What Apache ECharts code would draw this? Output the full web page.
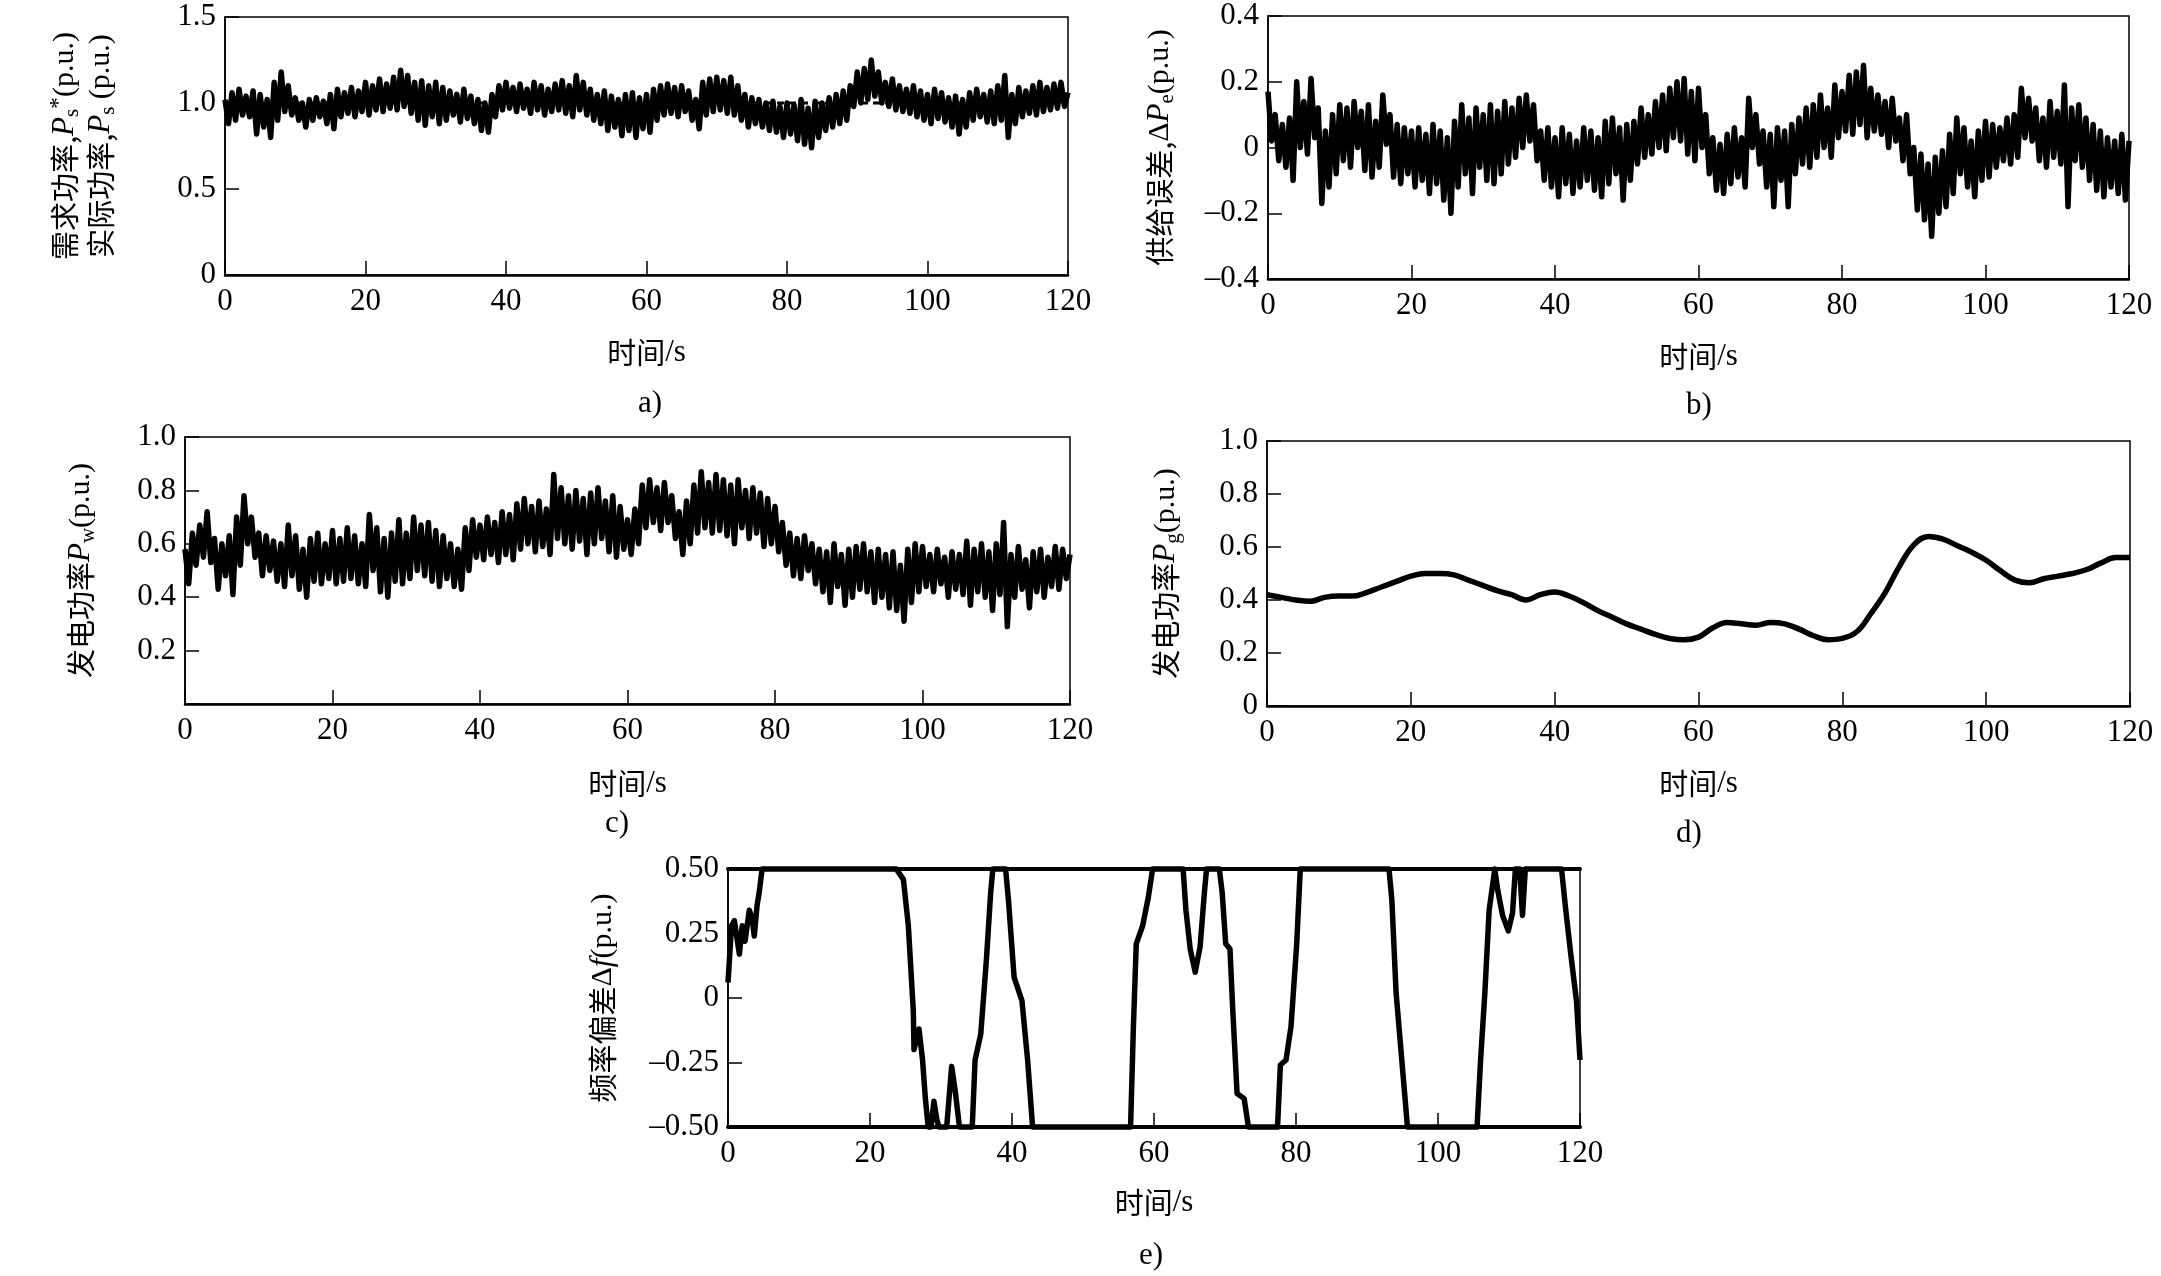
<!DOCTYPE html>
<html><head><meta charset="utf-8">
<script src="https://cdn.jsdelivr.net/npm/echarts@6/dist/echarts.min.js"></script>
<style>html,body{margin:0;padding:0;background:#fff}#c{width:2161px;height:1276px}</style>
</head><body><div id="c"></div>
<script>
// ---------- data ----------
const xTicks = [0, 20, 40, 60, 80, 100, 120];
// a) demand power (constant) and actual power band (upper at t=0..120, lower at t=0.5..119.5)
const demandT = [0, 120];
const demandV = [1.0, 1.0];
const psHi = [1.02,1.06,1.08,1.04,1.07,1.05,1.02,1.12,1.18,1.10,
 1.03,1.00,1.02,1.03,1.01,1.05,1.08,1.06,1.09,1.07,
 1.12,1.10,1.14,1.11,1.15,1.19,1.16,1.12,1.13,1.10,
 1.12,1.09,1.07,1.05,1.08,1.04,1.02,1.00,1.05,1.10,
 1.12,1.09,1.11,1.08,1.12,1.10,1.08,1.11,1.13,1.10,
 1.16,1.12,1.08,1.05,1.07,1.04,1.02,1.05,1.06,1.03,
 1.05,1.08,1.10,1.11,1.09,1.10,1.07,1.02,1.12,1.14,
 1.15,1.13,1.15,1.10,1.05,1.03,1.02,1.00,1.01,0.98,
 1.00,0.99,1.02,0.97,1.01,1.00,1.03,1.05,1.07,1.10,
 1.18,1.20,1.25,1.18,1.12,1.14,1.10,1.08,1.10,1.07,
 1.05,1.08,1.06,1.03,1.04,1.02,1.06,1.08,1.05,1.07,
 1.10,1.16,1.05,1.09,1.07,1.10,1.12,1.09,1.11,1.12,
 1.06];
const psLo = [0.88,0.90,0.93,0.92,0.82,0.86,0.80,0.90,0.95,0.93,
 0.90,0.86,0.90,0.92,0.88,0.85,0.92,0.94,0.92,0.95,
 0.93,0.96,0.95,0.97,0.96,0.98,0.94,0.90,0.87,0.92,
 0.88,0.90,0.93,0.89,0.91,0.88,0.84,0.83,0.92,0.96,
 0.97,0.95,0.97,0.94,0.96,0.93,0.95,0.96,0.94,0.92,
 0.96,0.93,0.90,0.88,0.84,0.86,0.81,0.84,0.80,0.85,
 0.83,0.90,0.93,0.94,0.92,0.95,0.90,0.85,0.93,0.95,
 0.96,0.94,0.93,0.90,0.86,0.88,0.86,0.84,0.83,0.80,
 0.82,0.78,0.76,0.74,0.80,0.84,0.86,0.88,0.90,0.98,
 1.00,1.02,1.04,1.00,0.98,0.96,0.95,0.94,0.92,0.90,
 0.88,0.91,0.89,0.86,0.82,0.86,0.90,0.92,0.89,0.88,
 0.90,0.80,0.88,0.92,0.94,0.93,0.95,0.96,0.97,0.98];
// b) supply error band
const peHi = [0.17,0.10,0.07,0.09,0.20,0.14,0.21,0.12,0.05,0.10,
 0.13,0.12,0.14,0.11,0.13,0.08,0.16,0.10,0.07,0.06,
 0.05,0.06,0.04,0.07,0.05,0.03,0.08,0.13,0.09,0.12,
 0.10,0.13,0.11,0.14,0.12,0.15,0.16,0.13,0.05,0.06,
 0.03,0.06,0.04,0.02,0.06,0.05,0.03,0.08,0.09,0.06,
 0.07,0.08,0.12,0.10,0.14,0.16,0.18,0.20,0.21,0.17,
 0.18,0.10,0.03,0.01,0.04,0.06,0.03,0.15,0.10,0.05,
 0.04,0.06,0.05,0.07,0.09,0.12,0.13,0.16,0.12,0.19,
 0.17,0.22,0.23,0.25,0.18,0.16,0.14,0.15,0.09,0.10,
 0.00,-0.02,-0.05,-0.03,-0.01,0.04,0.09,0.06,0.02,0.05,
 0.08,0.07,0.06,0.09,0.10,0.18,0.15,0.12,0.09,0.14,
 0.11,0.19,0.12,0.13,0.09,0.07,0.05,0.03,0.02,0.04,
 0.02];
const peLo = [0.02,-0.04,-0.06,-0.10,0.00,-0.02,0.03,-0.17,-0.12,-0.08,
 -0.04,-0.06,0.00,-0.07,-0.09,-0.06,0.01,-0.09,-0.11,-0.08,
 -0.12,-0.10,-0.14,-0.11,-0.16,-0.20,-0.12,-0.08,-0.14,-0.06,
 -0.10,-0.11,-0.08,-0.05,-0.03,0.00,0.02,-0.04,-0.10,-0.12,
 -0.15,-0.11,-0.14,-0.12,-0.10,-0.13,-0.15,-0.11,-0.08,-0.16,
 -0.10,-0.05,-0.03,-0.02,0.00,-0.01,0.03,0.02,-0.02,-0.04,
 0.00,-0.08,-0.13,-0.14,-0.11,-0.09,-0.12,0.00,-0.05,-0.12,
 -0.18,-0.10,-0.18,-0.08,-0.05,-0.06,-0.03,0.00,-0.03,0.03,
 0.05,0.04,0.07,0.03,0.05,0.04,0.00,0.02,-0.04,-0.08,
 -0.19,-0.22,-0.27,-0.20,-0.18,-0.14,-0.08,-0.12,-0.15,-0.10,
 -0.09,-0.06,-0.04,-0.05,-0.03,0.03,0.02,-0.04,-0.06,-0.03,
 -0.05,-0.18,-0.04,-0.06,-0.10,-0.13,-0.15,-0.12,-0.14,-0.16];
// c) wind power band
const pwHi = [0.58,0.64,0.67,0.72,0.62,0.60,0.63,0.70,0.78,0.70,
 0.64,0.63,0.61,0.60,0.67,0.63,0.58,0.62,0.64,0.60,
 0.65,0.62,0.66,0.63,0.60,0.71,0.66,0.62,0.64,0.69,
 0.64,0.70,0.67,0.68,0.65,0.63,0.60,0.58,0.66,0.69,
 0.67,0.70,0.68,0.72,0.71,0.75,0.77,0.74,0.76,0.73,
 0.86,0.81,0.78,0.80,0.77,0.79,0.81,0.76,0.78,0.74,
 0.69,0.73,0.82,0.84,0.81,0.83,0.78,0.72,0.76,0.82,
 0.87,0.83,0.86,0.84,0.82,0.84,0.80,0.81,0.79,0.77,
 0.74,0.68,0.64,0.62,0.63,0.60,0.58,0.57,0.60,0.56,
 0.58,0.59,0.60,0.57,0.58,0.56,0.57,0.52,0.58,0.60,
 0.59,0.56,0.58,0.55,0.57,0.56,0.61,0.58,0.60,0.57,
 0.60,0.68,0.56,0.59,0.54,0.57,0.58,0.55,0.59,0.58,
 0.56];
const pwLo = [0.45,0.52,0.55,0.53,0.43,0.48,0.41,0.52,0.60,0.55,
 0.48,0.50,0.46,0.44,0.48,0.43,0.40,0.46,0.45,0.47,
 0.45,0.46,0.47,0.45,0.44,0.50,0.42,0.40,0.46,0.45,
 0.47,0.50,0.48,0.46,0.44,0.47,0.44,0.43,0.50,0.55,
 0.54,0.56,0.53,0.56,0.54,0.58,0.60,0.57,0.59,0.56,
 0.62,0.60,0.58,0.61,0.56,0.60,0.62,0.57,0.55,0.58,
 0.56,0.60,0.66,0.68,0.65,0.68,0.62,0.56,0.60,0.64,
 0.66,0.64,0.65,0.63,0.60,0.66,0.62,0.64,0.59,0.60,
 0.57,0.52,0.48,0.47,0.50,0.45,0.42,0.38,0.44,0.37,
 0.40,0.43,0.42,0.38,0.40,0.36,0.35,0.31,0.38,0.42,
 0.44,0.42,0.45,0.40,0.43,0.41,0.37,0.42,0.40,0.35,
 0.41,0.29,0.40,0.43,0.36,0.42,0.40,0.44,0.43,0.47];
// d) gas turbine power
const pgT = [0,2,4,6,8,10,12,14,16,18,20,22,24,26,28,30,32,34,36,38,40,42,44,46,48,50,52,54,56,58,
 60,62,64,66,68,70,72,74,76,78,80,82,84,86,88,90,92,94,96,98,100,102,104,106,108,110,112,114,116,118,120];
const pgV = [0.42,0.41,0.40,0.395,0.41,0.415,0.415,0.43,0.45,0.47,0.49,0.50,0.50,0.495,0.475,0.455,0.435,0.42,0.40,0.42,
 0.43,0.415,0.39,0.36,0.335,0.31,0.29,0.27,0.255,0.25,0.26,0.295,0.315,0.31,0.305,0.315,0.31,0.29,0.265,0.25,
 0.255,0.28,0.35,0.43,0.53,0.61,0.64,0.63,0.605,0.58,0.55,0.51,0.475,0.465,0.48,0.49,0.50,0.515,0.54,0.56,0.56];
// e) frequency deviation (saturates at +-0.5)
const dfT = [0,0.5,0.9,1.6,2.0,2.4,3.0,3.4,3.7,4.1,4.4,4.8,23.7,24.7,25.4,26.1,26.2,26.9,27.4,27.8,28.2,28.6,29.0,29.4,29.7,
 30.8,31.5,32.0,32.6,34.4,34.8,35.6,36.4,37.0,37.3,39.1,39.5,40.3,41.4,42.2,42.9,56.7,57.1,57.5,58.4,59.2,59.8,
 64.1,64.5,65.1,65.8,66.5,67.1,67.4,69.2,69.6,70.1,70.7,71.1,71.7,72.7,73.3,77.4,77.8,78.6,79.3,80.1,80.6,
 93.1,93.5,94.1,94.9,95.7,105.5,106.0,106.6,107.2,108.0,108.4,109.1,109.9,110.5,110.9,111.5,111.9,112.3,
 117.4,118.0,118.7,119.5,120];
const dfV = [0.06,0.28,0.30,0.17,0.28,0.22,0.34,0.31,0.24,0.36,0.41,0.5,0.5,0.46,0.28,-0.05,-0.20,-0.12,-0.24,-0.39,-0.5,-0.5,-0.40,-0.47,-0.5,
 -0.5,-0.265,-0.36,-0.5,-0.5,-0.24,-0.14,0.15,0.41,0.5,0.5,0.38,0.08,-0.01,-0.24,-0.5,-0.5,-0.11,0.21,0.28,0.39,0.5,
 0.5,0.34,0.19,0.10,0.20,0.41,0.5,0.5,0.41,0.21,0.19,-0.05,-0.37,-0.39,-0.5,-0.5,-0.26,-0.24,-0.11,0.21,0.5,
 0.5,0.38,0.02,-0.24,-0.5,-0.5,-0.24,0.02,0.34,0.5,0.42,0.32,0.26,0.33,0.5,0.5,0.32,0.5,
 0.5,0.34,0.17,-0.01,-0.24];

// ---------- helpers ----------
function band(hi, lo) { // alternate upper (t=i) and lower (t=i+0.5) readings
  const out = [];
  for (let i = 0; i < lo.length; i++) { out.push([i, hi[i]]); out.push([i + 0.5, lo[i]]); }
  out.push([lo.length, hi[lo.length]]);
  return out;
}
function pairs(t, v) { return t.map((x, i) => [x, v[i]]); }

const SERIF = '"Liberation Serif","DejaVu Serif",serif';
const CJK = '"Noto Sans CJK SC","Noto Sans CJK JP",sans-serif';
const LH = 36;
const richName = {
  cn: { fontFamily: CJK, fontSize: 29, color: '#000', lineHeight: LH },
  n: { fontFamily: SERIF, fontSize: 30, color: '#000', lineHeight: LH },
  it: { fontFamily: SERIF, fontSize: 31, fontStyle: 'italic', color: '#000', lineHeight: LH },
  sub: { fontFamily: SERIF, fontSize: 21, color: '#000', lineHeight: LH, verticalAlign: 'bottom' },
  sup: { fontFamily: SERIF, fontSize: 24, color: '#000', lineHeight: LH, verticalAlign: 'top' }
};

const grids = [
  { left: 225, top: 17, width: 843, height: 258 },
  { left: 1268, top: 16, width: 861, height: 263 },
  { left: 185, top: 437, width: 885, height: 267 },
  { left: 1267, top: 441, width: 863, height: 265 },
  { left: 728, top: 869, width: 852, height: 258 }
].map(g => Object.assign(g, { show: true, borderColor: '#000', borderWidth: 1.5, backgroundColor: 'transparent', containLabel: false, outerBoundsMode: 'none' }));

const xGaps = [62, 62, 64, 62, 60];
const xLineW = [2.5, 2.5, 2.5, 2.5, 4];
const xAxes = grids.map((g, i) => ({
  gridIndex: i, type: 'value', min: xTicks[0], max: xTicks[xTicks.length - 1], interval: xTicks[1] - xTicks[0],
  axisLine: { show: true, onZero: false, lineStyle: { color: '#000', width: xLineW[i] } },
  axisTick: { show: true, inside: true, length: 14, lineStyle: { color: '#000', width: 1.5 } },
  axisLabel: { color: '#000', fontFamily: SERIF, fontSize: 31, margin: 11, showMinLabel: true, showMaxLabel: true },
  splitLine: { show: false },
  name: '{cn|时间}{n|/s}', nameLocation: 'middle', nameGap: xGaps[i],
  nameTextStyle: { rich: { cn: { fontFamily: CJK, fontSize: 29, color: '#000' }, n: { fontFamily: SERIF, fontSize: 31, color: '#000' } } }
}));
// extra top axis for panel e: thick upper frame line
xAxes.push({
  gridIndex: 4, type: 'value', position: 'top', min: xTicks[0], max: xTicks[xTicks.length - 1], interval: xTicks[1] - xTicks[0],
  axisLine: { show: true, onZero: false, lineStyle: { color: '#000', width: 4 } },
  axisTick: { show: false }, axisLabel: { show: false }, splitLine: { show: false }
});

function fmt(dec, hideZero) {
  return v => {
    if (Math.abs(v) < 1e-9) return hideZero ? '' : '0';
    return (v < 0 ? '\u2013' : '') + Math.abs(v).toFixed(dec);
  };
}
function yAx(i, min, max, interval, formatter, name, gap) {
  return {
    gridIndex: i, type: 'value', min, max, interval,
    axisLine: { show: true, onZero: false, lineStyle: { color: '#000', width: 1.5 } },
    axisTick: { show: true, inside: true, length: 14, lineStyle: { color: '#000', width: 1.5 } },
    axisLabel: { color: '#000', fontFamily: SERIF, fontSize: 31, margin: 9, formatter, showMinLabel: true, showMaxLabel: true },
    splitLine: { show: false },
    name, nameLocation: 'middle', nameRotate: 90, nameGap: gap,
    nameTextStyle: { rich: richName }
  };
}
const yAxes = [
  yAx(0, 0, 1.5, 0.5, fmt(1, false), '{cn|需求功率,}{it|P}{sub|s}{sup|*}{n|(p.u.)}\n{cn|实际功率,}{it|P}{sub|s}{n| (p.u.)}', 106),
  yAx(1, -0.4, 0.4, 0.2, fmt(1, false), '{cn|供给误差,}{n|Δ}{it|P}{sub|e}{n|(p.u.)}', 90),
  yAx(2, 0, 1.0, 0.2, fmt(1, true), '{cn|发电功率}{it|P}{sub|w}{n|(p.u.)}', 86),
  yAx(3, 0, 1.0, 0.2, fmt(1, false), '{cn|发电功率}{it|P}{sub|g}{n|(p.u.)}', 83),
  yAx(4, -0.5, 0.5, 0.25, fmt(2, false), '{cn|频率偏差}{n|Δ}{it|f}{n|(p.u.)}', 107)
];

function line(i, data, width, extra) {
  return Object.assign({
    type: 'line', xAxisIndex: i, yAxisIndex: i, data, showSymbol: false, symbol: 'none',
    lineStyle: { color: '#000', width, join: 'round' }, silent: true, animation: false
  }, extra || {});
}
const series = [
  line(0, pairs(demandT, demandV), 3, { lineStyle: { color: '#000', width: 3, type: [7, 5] } }),
  line(0, band(psHi, psLo), 5.5),
  line(1, band(peHi, peLo), 5.5),
  line(2, band(pwHi, pwLo), 5.5),
  line(3, pairs(pgT, pgV), 5.5, { smooth: 0.4 }),
  line(4, pairs(dfT, dfV), 5.5, { clip: false })
];

const labels = [['a)', 650, 404], ['b)', 1699, 406], ['c)', 617, 824], ['d)', 1689, 834], ['e)', 1151, 1256]];
const graphic = labels.map(([t, x, y]) => ({
  type: 'text', x, y, style: { text: t, font: '31px ' + SERIF, fill: '#000', textAlign: 'center', textVerticalAlign: 'middle' }
}));

const chart = echarts.init(document.getElementById('c'), null, { renderer: 'canvas' });
chart.setOption({
  animation: false, backgroundColor: '#fff',
  grid: grids, xAxis: xAxes, yAxis: yAxes, series, graphic
});
</script></body></html>
